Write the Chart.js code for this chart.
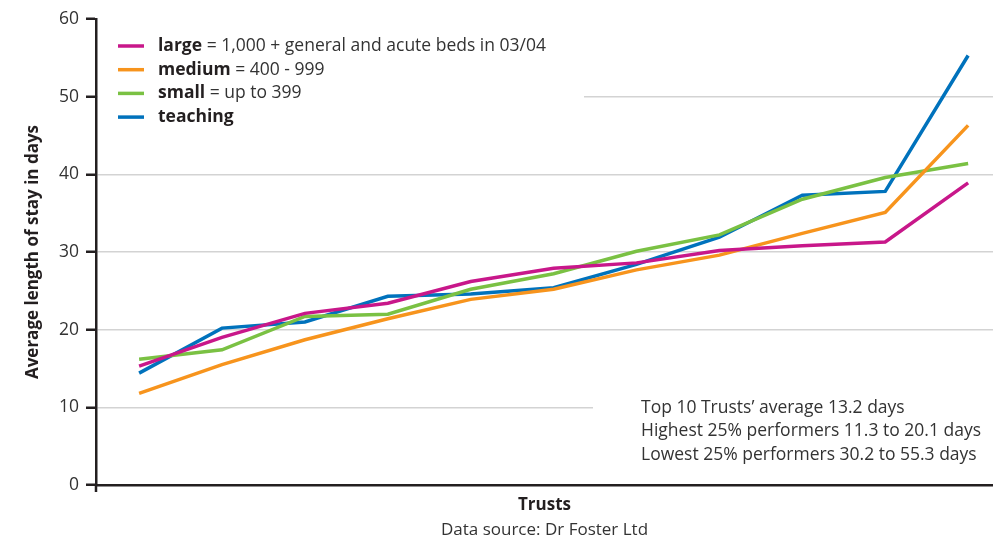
<!DOCTYPE html>
<html>
<head>
<meta charset="utf-8">
<title>Average length of stay by trust type</title>
<script src="https://cdn.jsdelivr.net/npm/chart.js@4/dist/chart.umd.min.js"></script>
<style>
  html, body { margin: 0; padding: 0; background: #fff; }
  #stayChart { display: block; }
</style>
</head>
<body>
<canvas id="stayChart" width="993" height="540"></canvas>
<script>
// Trusts ranked along the x axis (no tick labels shown)
const trustRanks = [0, 1, 2, 3, 4, 5, 6, 7, 8, 9, 10];

// Average length of stay in days, per trust size group
const largeDays = [15.3, 19.0, 22.1, 23.4, 26.2, 27.9, 28.6, 30.2, 30.8, 31.3, 38.9];
const mediumDays = [11.8, 15.5, 18.7, 21.4, 23.9, 25.2, 27.7, 29.6, 32.4, 35.1, 46.3];
const smallDays = [16.2, 17.4, 21.7, 22.0, 25.2, 27.2, 30.1, 32.2, 36.8, 39.6, 41.4];
const teachingDays = [14.4, 20.2, 21.0, 24.3, 24.6, 25.4, 28.4, 31.9, 37.3, 37.8, 55.3];

const yTicks = [0, 10, 20, 30, 40, 50, 60];

// Legend text: bold group name followed by its definition
const legendNames = ['large', 'medium', 'small', 'teaching'];
const legendNotes = [' = 1,000 + general and acute beds in 03/04', ' = 400 - 999', ' = up to 399', ''];
const seriesColors = ['#c8178a', '#f7941d', '#7ac143', '#0072bc'];

const summaryLines = [
    'Top 10 Trusts\u2019 average 13.2 days',
    'Highest 25% performers 11.3 to 20.1 days',
    'Lowest 25% performers 30.2 to 55.3 days'
];
const sourceLine = 'Data source: Dr Foster Ltd';

const FONT = "'Open Sans', 'Noto Sans', sans-serif";
const INK = '#231f20';
const TEXT = '#333333';

Chart.defaults.font.family = FONT;

function toPoints(values) {
    return values.map((v, i) => ({ x: trustRanks[i], y: v }));
}

const seriesValues = [largeDays, mediumDays, smallDays, teachingDays];

// White panels behind the legend and the summary, drawn over the grid
const panelsPlugin = {
    id: 'panels',
    beforeDatasetsDraw(chart) {
        const { ctx, chartArea } = chart;
        ctx.save();
        ctx.fillStyle = '#ffffff';
        ctx.fillRect(chartArea.left + 2, 30, 486, 102);
        ctx.fillRect(593, 390, chartArea.right - 593, 80);
        ctx.restore();
    },
    afterDraw(chart) {
        const { ctx, chartArea } = chart;
        ctx.save();

        // short stub of the y axis below the x axis
        ctx.strokeStyle = INK;
        ctx.lineWidth = 2.5;
        ctx.beginPath();
        ctx.moveTo(chartArea.left, chartArea.bottom);
        ctx.lineTo(chartArea.left, chartArea.bottom + 7);
        ctx.stroke();

        // legend
        ctx.textBaseline = 'middle';
        legendNames.forEach((name, i) => {
            const y = 46 + i * 23.7;
            ctx.strokeStyle = seriesColors[i];
            ctx.lineWidth = 3.5;
            ctx.beginPath();
            ctx.moveTo(118, y);
            ctx.lineTo(144, y);
            ctx.stroke();

            ctx.font = 'bold 17.5px ' + FONT;
            ctx.fillStyle = INK;
            ctx.fillText(name, 158, y);
            const w = ctx.measureText(name).width;
            ctx.font = '17.5px ' + FONT;
            ctx.fillStyle = TEXT;
            ctx.fillText(legendNotes[i], 158 + w, y);
        });

        // summary
        ctx.font = '17.5px ' + FONT;
        ctx.fillStyle = TEXT;
        summaryLines.forEach((line, i) => {
            ctx.fillText(line, 641, 408 + i * 23.5);
        });

        // data source, centred under the plot
        ctx.textAlign = 'center';
        ctx.font = '17px ' + FONT;
        ctx.fillText(sourceLine, (chartArea.left + chartArea.right) / 2, 530);
        ctx.restore();
    }
};

const ctx = document.getElementById('stayChart').getContext('2d');
const stayChart = new Chart(ctx, {
    type: 'line',
    data: {
        datasets: legendNames.map((name, i) => ({
            label: name,
            data: toPoints(seriesValues[i]),
            borderColor: seriesColors[i],
            borderWidth: 3.5,
            pointRadius: 0,
            tension: 0,
            fill: false
        }))
    },
    options: {
        responsive: false,
        animation: false,
        devicePixelRatio: 1,
        layout: { padding: { top: 19, right: 0, bottom: 0, left: 0 } },
        plugins: {
            legend: { display: false },
            tooltip: { enabled: false }
        },
        scales: {
            x: {
                type: 'linear',
                min: -0.52,
                max: 10.3,
                ticks: { display: false },
                grid: { display: false },
                border: { color: INK, width: 2.5 },
                title: {
                    display: true,
                    text: 'Trusts',
                    color: INK,
                    font: { size: 17, weight: 'bold' },
                    padding: { top: 0, bottom: 25 }
                },
                afterFit(scale) { scale.height = 55; }
            },
            y: {
                min: 0,
                max: 60,
                afterBuildTicks(scale) {
                    scale.ticks = yTicks.map(v => ({ value: v }));
                },
                ticks: {
                    padding: 7,
                    color: TEXT,
                    font: { size: 17.5 }
                },
                grid: {
                    color: c => (c.tick && (c.tick.value === 60 || c.tick.value === 0)) ? 'rgba(0,0,0,0)' : '#d3d3d3',
                    lineWidth: 1.5,
                    tickColor: INK,
                    tickWidth: 2.5,
                    tickLength: 10
                },
                border: { color: INK, width: 2.5 },
                title: {
                    display: true,
                    text: 'Average length of stay in days',
                    color: INK,
                    font: { size: 17, weight: 'bold' },
                    padding: { top: 23, bottom: 0 }
                },
                afterFit(scale) { scale.width = 96; }
            }
        }
    },
    plugins: [panelsPlugin]
});
</script>
</body>
</html>
